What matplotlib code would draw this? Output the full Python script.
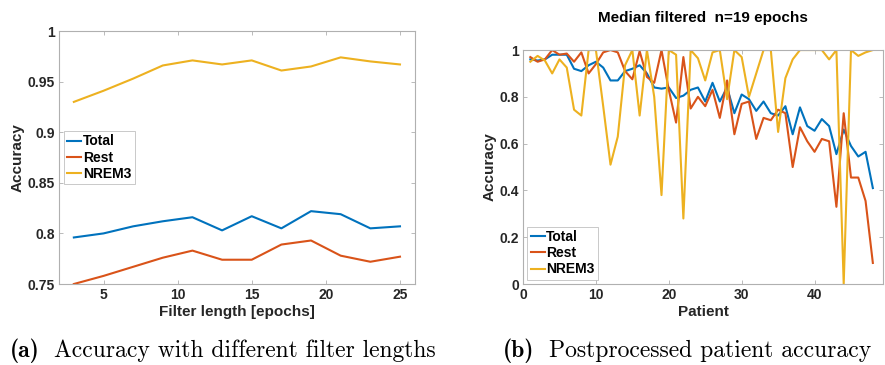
import numpy as np
import matplotlib
matplotlib.use('Agg')
import matplotlib.pyplot as plt

# filter length sweep
filter_len = [3, 5, 7, 9, 11, 13, 15, 17, 19, 21, 23, 25]
acc_total = [0.796, 0.800, 0.807, 0.812, 0.816, 0.803, 0.817, 0.805, 0.822, 0.819, 0.805, 0.807]
acc_rest = [0.750, 0.758, 0.767, 0.776, 0.783, 0.774, 0.774, 0.789, 0.793, 0.778, 0.772, 0.777]
acc_nrem3 = [0.930, 0.941, 0.953, 0.966, 0.971, 0.967, 0.971, 0.961, 0.965, 0.974, 0.970, 0.967]

# per patient accuracy after median filter (n=19)
patients = np.arange(1, 49)
pat_total = [0.96, 0.955, 0.96, 0.98, 0.98, 0.98, 0.92, 0.91, 0.935, 0.95,
             0.925, 0.87, 0.87, 0.91, 0.92, 0.935, 0.90, 0.84, 0.835, 0.84,
             0.795, 0.805, 0.83, 0.84, 0.78, 0.86, 0.78, 0.84, 0.73, 0.81,
             0.79, 0.74, 0.78, 0.73, 0.72, 0.76, 0.64, 0.755, 0.675, 0.655,
             0.705, 0.675, 0.555, 0.66, 0.59, 0.545, 0.565, 0.41]
pat_rest = [0.97, 0.95, 0.96, 1.0, 0.98, 0.985, 0.95, 0.99, 0.90, 0.94,
            0.99, 1.0, 0.99, 0.91, 0.875, 0.995, 0.885, 0.86, 1.0, 0.83,
            0.69, 0.97, 0.75, 0.80, 0.76, 0.83, 0.71, 0.87, 0.64, 0.77,
            0.78, 0.62, 0.71, 0.70, 0.745, 0.73, 0.50, 0.67, 0.61, 0.565,
            0.62, 0.61, 0.33, 0.73, 0.455, 0.455, 0.355, 0.09]
pat_nrem3 = [0.95, 0.975, 0.955, 0.90, 0.96, 0.925, 0.745, 0.72, 1.0, 1.0,
             0.76, 0.51, 0.63, 0.935, 1.0, 0.72, 1.0, 0.80, 0.38, 1.0,
             0.98, 0.28, 1.0, 0.965, 0.87, 0.99, 1.0, 0.79, 1.0, 0.97,
             0.80, 0.90, 1.0, 1.0, 0.65, 0.88, 0.96, 1.0, 1.0, 1.0,
             1.0, 0.96, 1.0, 0.0, 1.0, 0.975, 0.99, 1.0]

c_total = '#0072BD'
c_rest = '#D95319'
c_nrem = '#EDB120'

plt.rcParams['font.family'] = ['Liberation Sans', 'DejaVu Sans']
plt.rcParams['font.weight'] = 'bold'

fig = plt.figure(figsize=(8.85, 3.65), dpi=100)
ax1 = fig.add_axes([0.0667, 0.2219, 0.402, 0.693])
ax2 = fig.add_axes([0.591, 0.2219, 0.4068, 0.641])

def style(ax):
    for s in ax.spines.values():
        s.set_color('#b0b0b0')
        s.set_linewidth(0.8)
    ax.tick_params(direction='in', length=3, width=0.6, color='#b0b0b0',
                   labelsize=10, labelcolor='#262626', top=True, right=True, pad=3)
    for lab in ax.get_xticklabels() + ax.get_yticklabels():
        lab.set_fontweight('bold')

def legend(ax, **kw):
    leg = ax.legend(fontsize=10, handlelength=1.0, handletextpad=0.1, borderpad=0.25,
                    labelspacing=0.15, fancybox=False, **kw)
    leg.get_frame().set_edgecolor('#b0b0b0')
    leg.get_frame().set_linewidth(0.6)
    return leg

lw = 1.5
ax1.plot(filter_len, acc_total, color=c_total, lw=lw, label='Total')
ax1.plot(filter_len, acc_rest, color=c_rest, lw=lw, label='Rest')
ax1.plot(filter_len, acc_nrem3, color=c_nrem, lw=lw, label='NREM3')
ax1.set_xlim(2, 26)
ax1.set_ylim(0.75, 1)
ax1.set_xticks([5, 10, 15, 20, 25])
ax1.set_yticks([0.75, 0.8, 0.85, 0.9, 0.95, 1])
ax1.set_yticklabels(['0.75', '0.8', '0.85', '0.9', '0.95', '1'])
ax1.set_xlabel('Filter length [epochs]', fontsize=11, fontweight='bold', color='#262626', labelpad=2)
ax1.set_ylabel('Accuracy', fontsize=11, fontweight='bold', color='#262626', labelpad=2)
style(ax1)
legend(ax1, loc='upper left', bbox_to_anchor=(0.014, 0.605), borderaxespad=0)

ax2.plot(patients, pat_total, color=c_total, lw=lw, label='Total')
ax2.plot(patients, pat_rest, color=c_rest, lw=lw, label='Rest')
ax2.plot(patients, pat_nrem3, color=c_nrem, lw=lw, label='NREM3')
ax2.set_xlim(0, 49.4)
ax2.set_ylim(0, 1)
ax2.set_xticks([0, 10, 20, 30, 40])
ax2.set_yticks([0, 0.2, 0.4, 0.6, 0.8, 1])
ax2.set_yticklabels(['0', '0.2', '0.4', '0.6', '0.8', '1'])
ax2.set_xlabel('Patient', fontsize=11, fontweight='bold', color='#262626', labelpad=2)
ax2.set_ylabel('Accuracy', fontsize=11, fontweight='bold', color='#262626', labelpad=2)
ax2.set_title('Median filtered  n=19 epochs', fontsize=11, fontweight='bold', pad=20)
style(ax2)
legend(ax2, loc='lower left', borderaxespad=0.3)

# subfigure captions
ybase = 1 - 357 / 365
fig.text(0.011, ybase, '(a)', fontfamily='cmb10', fontsize=17, va='baseline')
fig.text(0.061, ybase, 'Accuracy with different filter lengths', fontfamily='cmr10',
         fontsize=17, va='baseline', fontweight='normal')
fig.text(0.568, ybase, '(b)', fontfamily='cmb10', fontsize=17, va='baseline')
fig.text(0.620, ybase, 'Postprocessed patient accuracy', fontfamily='cmr10',
         fontsize=17, va='baseline', fontweight='normal')

fig.savefig('out.png', dpi=100)
